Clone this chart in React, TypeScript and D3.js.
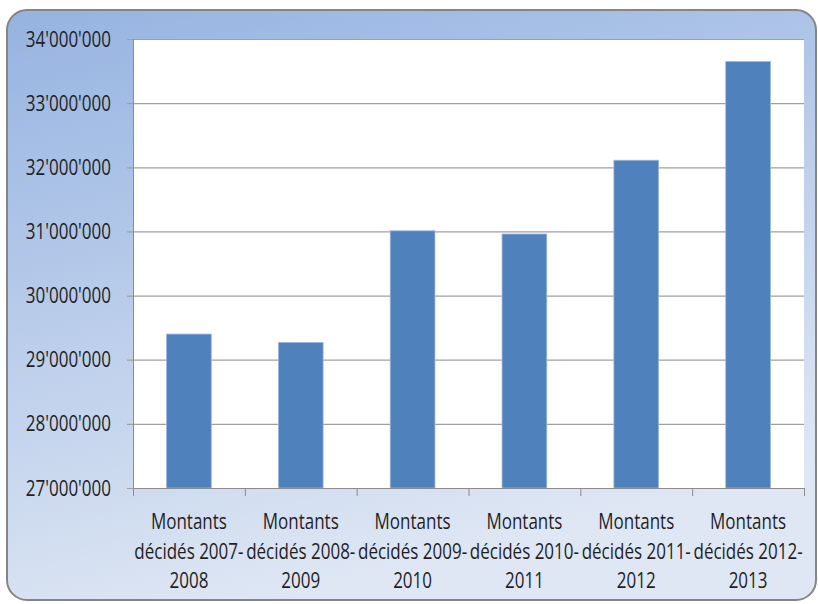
import * as d3 from "d3";
import { useEffect, useRef } from "react";

const categories = [
    "Montants décidés 2007-2008",
    "Montants décidés 2008-2009",
    "Montants décidés 2009-2010",
    "Montants décidés 2010-2011",
    "Montants décidés 2011-2012",
    "Montants décidés 2012-2013",
];
const labelLines = [
    ["Montants", "décidés 2007-", "2008"],
    ["Montants", "décidés 2008-", "2009"],
    ["Montants", "décidés 2009-", "2010"],
    ["Montants", "décidés 2010-", "2011"],
    ["Montants", "décidés 2011-", "2012"],
    ["Montants", "décidés 2012-", "2013"],
];
const values = [29400000, 29270000, 31010000, 30960000, 32110000, 33650000];
const yTicks = [27000000, 28000000, 29000000, 30000000, 31000000, 32000000, 33000000, 34000000];

const W = 818;
const H = 604;
const FONT = "'Open Sans', 'Noto Sans', sans-serif";
const FONT_SIZE = 21;
// the reference font is a narrow one, squeeze the text horizontally
const SQUEEZE = 0.81;

export default function App() {
    const svgRef = useRef<SVGSVGElement>(null);

    useEffect(() => {
        const svg = d3.select(svgRef.current);
        svg.selectAll("*").remove();

        const defs = svg.append("defs");
        const grad = defs
            .append("linearGradient")
            .attr("id", "bg")
            .attr("x1", "0")
            .attr("y1", "0")
            .attr("x2", "0.35")
            .attr("y2", "1");
        grad.append("stop").attr("offset", "0%").attr("stop-color", "#95b3e1");
        grad.append("stop").attr("offset", "100%").attr("stop-color", "#dfe7f4");

        // Frame
        svg.append("rect")
            .attr("x", 7)
            .attr("y", 10)
            .attr("width", 809)
            .attr("height", 590)
            .attr("rx", 20)
            .attr("fill", "url(#bg)")
            .attr("stroke", "#858585")
            .attr("stroke-width", 2);

        const left = 133;
        const right = 804;
        const top = 39;
        const bottom = 488;

        const x = d3.scaleBand<string>().domain(categories).range([left, right]).paddingInner(0.6).paddingOuter(0.3);
        const band = d3.scaleBand<string>().domain(categories).range([left, right]);
        const y = d3.scaleLinear().domain([27000000, 34000000]).range([bottom, top]);

        // Plot area
        svg.append("rect")
            .attr("x", left)
            .attr("y", top)
            .attr("width", right - left)
            .attr("height", bottom - top)
            .attr("fill", "#ffffff");

        // Grid lines
        svg.append("g")
            .selectAll("line")
            .data(yTicks)
            .join("line")
            .attr("x1", left - 6)
            .attr("x2", right)
            .attr("y1", (d) => y(d) + 0.5)
            .attr("y2", (d) => y(d) + 0.5)
            .attr("stroke", "#a0a0a0")
            .attr("stroke-width", 1.2);

        // Bars
        svg.append("g")
            .selectAll("rect")
            .data(values)
            .join("rect")
            .attr("x", (d, i) => x(categories[i])!)
            .attr("y", (d) => y(d))
            .attr("width", x.bandwidth())
            .attr("height", (d) => bottom - y(d))
            .attr("fill", "#4f81bd")
            .attr("stroke", "#9fb9dc")
            .attr("stroke-width", 0.8);

        // Y axis line
        svg.append("line")
            .attr("x1", left + 0.5)
            .attr("x2", left + 0.5)
            .attr("y1", top)
            .attr("y2", bottom)
            .attr("stroke", "#8c8c8c");

        // X axis line and ticks
        svg.append("line")
            .attr("x1", left)
            .attr("x2", right)
            .attr("y1", bottom + 0.5)
            .attr("y2", bottom + 0.5)
            .attr("stroke", "#8c8c8c");
        const boundaries = [...categories.map((c) => band(c)!), right];
        svg.append("g")
            .selectAll("line")
            .data(boundaries)
            .join("line")
            .attr("x1", (d) => d + 0.5)
            .attr("x2", (d) => d + 0.5)
            .attr("y1", bottom)
            .attr("y2", bottom + 8)
            .attr("stroke", "#8c8c8c");

        // Y labels
        svg.append("g")
            .selectAll("text")
            .data(yTicks)
            .join("text")
            .attr("transform", (d) => `translate(${left - 22},${y(d) + 7.5}) scale(${SQUEEZE},1)`)
            .attr("text-anchor", "end")
            .attr("font-family", FONT)
            .attr("font-size", FONT_SIZE)
            .attr("fill", "#1f1f1f")
            .text((d) => d3.format(",")(d).replace(/,/g, "'"));

        // X labels
        const xl = svg.append("g");
        labelLines.forEach((lines, i) => {
            const cx = band(categories[i])! + band.bandwidth() / 2;
            lines.forEach((line, j) => {
                xl.append("text")
                    .attr("transform", `translate(${cx},${529 + j * 29.5}) scale(${SQUEEZE},1)`)
                    .attr("text-anchor", "middle")
                    .attr("font-family", FONT)
                    .attr("font-size", FONT_SIZE)
                    .attr("fill", "#1f1f1f")
                    .text(line);
            });
        });
    }, []);

    return (
        <svg
            ref={svgRef}
            width={W}
            height={H}
            style={{ position: "absolute", left: 0, top: 0 }}
        />
    );
}
